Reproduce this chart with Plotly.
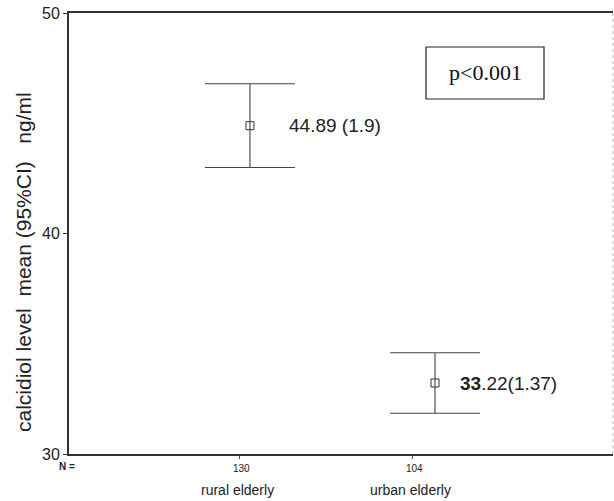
import plotly.graph_objects as go

groups = ["rural elderly", "urban elderly"]
group_pos = [1, 2]
n_labels = ["130", "104"]
means = [44.89, 33.22]
ci_half = [1.9, 1.37]
value_text = ["44.89 (1.9)", "<b>33</b>.22(1.37)"]
tick_pos = [0.946, 1.876]
p_text = "p<0.001"

NB = "\u00a0"
y_title = "calcidiol level" + NB * 2 + "mean (95%CI)" + NB * 3 + "ng/ml"

fig = go.Figure()
fig.add_trace(go.Scatter(
    x=group_pos, y=means, mode="markers",
    marker=dict(symbol="square-open", size=8, color="#333", line=dict(width=1)),
    error_y=dict(type="data", array=ci_half, visible=True, width=45,
                 thickness=1.1, color="#444"),
    showlegend=False, hoverinfo="skip"))

fig.update_layout(
    width=614, height=501,
    margin=dict(l=69, r=1, t=13, b=47),
    paper_bgcolor="white", plot_bgcolor="white",
    font=dict(family="Liberation Sans, Arial, sans-serif", color="#222"),
    xaxis=dict(range=[0.022, 2.962], showgrid=False, zeroline=False,
               showline=True, linecolor="#333", linewidth=2, mirror=True,
               tickmode="array", tickvals=tick_pos, ticktext=["", ""],
               ticks="outside", ticklen=3, tickcolor="#555"),
    yaxis=dict(range=[30, 50], showgrid=False, zeroline=False,
               showline=True, linecolor="#333", linewidth=2,
               tickmode="array", tickvals=[30, 40, 50],
               ticks="outside", ticklen=4, tickcolor="#333",
               tickfont=dict(size=16, color="#222")),
)

# y-axis title
fig.add_annotation(x=0, y=(454 - 262) / 441, xref="paper", yref="paper",
                   text=y_title, textangle=-90, showarrow=False,
                   xanchor="center", yanchor="middle", xshift=-46,
                   font=dict(size=21, color="#222"))

# faint right border
fig.add_shape(type="line", xref="paper", yref="paper", x0=1, x1=1, y0=0, y1=1,
              line=dict(color="#bbb", width=1, dash="dot"))

# value labels
shifts = [37, 23]
for xp, m, t, s in zip(group_pos, means, value_text, shifts):
    fig.add_annotation(x=xp, y=m, text=t, showarrow=False, xanchor="left",
                       xshift=s, font=dict(size=19, color="#222"))

# N row and category labels
fig.add_annotation(x=0, y=0, xref="paper", yref="paper", text="<b>N =</b>",
                   showarrow=False, xanchor="right", yanchor="middle",
                   xshift=8, yshift=-12, font=dict(size=10, color="#222"))
for tp, n, g in zip(tick_pos, n_labels, groups):
    fig.add_annotation(x=tp, y=0, yref="paper", text=n, showarrow=False,
                       yanchor="middle", xshift=2, yshift=-14,
                       font=dict(size=10, color="#222"))
    fig.add_annotation(x=tp, y=0, yref="paper", text=g, showarrow=False,
                       yanchor="middle", xshift=-2, yshift=-36,
                       font=dict(size=14, color="#222"))

# p-value box
fig.add_shape(type="rect", xref="paper", yref="paper",
              x0=(426 - 69) / 544, x1=(544 - 69) / 544,
              y0=(454 - 99) / 441, y1=(454 - 47) / 441,
              line=dict(color="#222", width=1.2), fillcolor="white")
fig.add_annotation(x=(485 - 69) / 544, y=(454 - 72) / 441, xref="paper", yref="paper",
                   text=p_text, showarrow=False, xanchor="center", yanchor="middle",
                   font=dict(family="Liberation Serif, Times New Roman, serif", size=22, color="#111"))

fig.write_html("out.html", config={"displayModeBar": False},
               post_script="document.body.style.margin='0';document.body.style.overflow='hidden';")
